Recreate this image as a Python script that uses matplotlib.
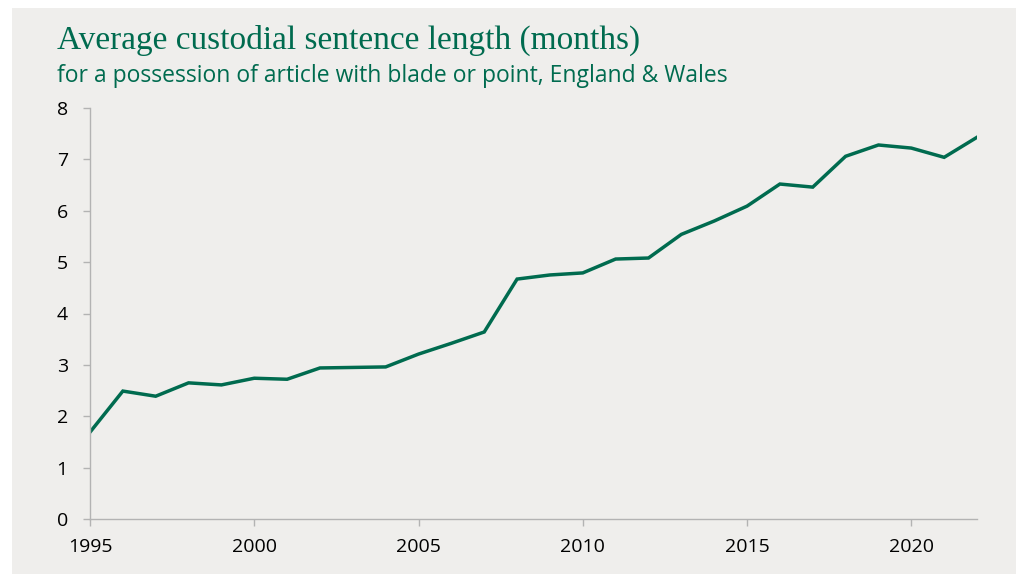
import matplotlib
matplotlib.use("Agg")
import matplotlib.pyplot as plt
from matplotlib.patches import Rectangle

years = list(range(1995, 2023))
months = [1.69, 2.49, 2.39, 2.65, 2.61, 2.74, 2.72, 2.94, 2.95, 2.96,
          3.21, 3.42, 3.64, 4.67, 4.75, 4.79, 5.06, 5.08, 5.54, 5.80,
          6.09, 6.52, 6.46, 7.06, 7.28, 7.22, 7.04, 7.43]

xticks = [1995, 2000, 2005, 2010, 2015, 2020]
yticks = [0, 1, 2, 3, 4, 5, 6, 7, 8]

GREEN = "#006B4F"
BG = "#EFEEEC"
AXIS = "#B3B3B3"

W, H = 1018, 574
fig = plt.figure(figsize=(W / 100, H / 100), dpi=100, facecolor="white")
fig.patches.append(Rectangle((12 / W, 0), (1016 - 12) / W, (H - 8) / H,
                             transform=fig.transFigure, facecolor=BG,
                             edgecolor="none", zorder=-1))

ax = fig.add_axes([90 / W, (H - 519) / H, (977 - 90) / W, (519 - 108) / H])
ax.set_facecolor("none")
ax.plot(years, months, color=GREEN, linewidth=2.5, solid_joinstyle="miter")

ax.set_xlim(1995, 2022)
ax.set_ylim(0, 8)
ax.set_xticks(xticks)
ax.set_yticks(yticks)
for s in ["top", "right"]:
    ax.spines[s].set_visible(False)
for s in ["left", "bottom"]:
    ax.spines[s].set_color(AXIS)
    ax.spines[s].set_linewidth(1.0)
ax.tick_params(colors=AXIS, labelcolor="black", length=5, width=1.0,
               labelsize=14, pad=9)
ax.tick_params(axis="y", pad=11)
for lab in ax.get_xticklabels() + ax.get_yticklabels():
    lab.set_fontfamily("Open Sans")

fig.text(57 / W, 1 - 49 / H, "Average custodial sentence length (months)",
         fontfamily="Liberation Serif", fontsize=24, color=GREEN, va="baseline")
fig.text(57 / W, 1 - 82 / H, "for a possession of article with blade or point, England & Wales",
         fontfamily="Open Sans", fontsize=16.5, color=GREEN, va="baseline")

fig.savefig("out.png", dpi=100, facecolor="white")
